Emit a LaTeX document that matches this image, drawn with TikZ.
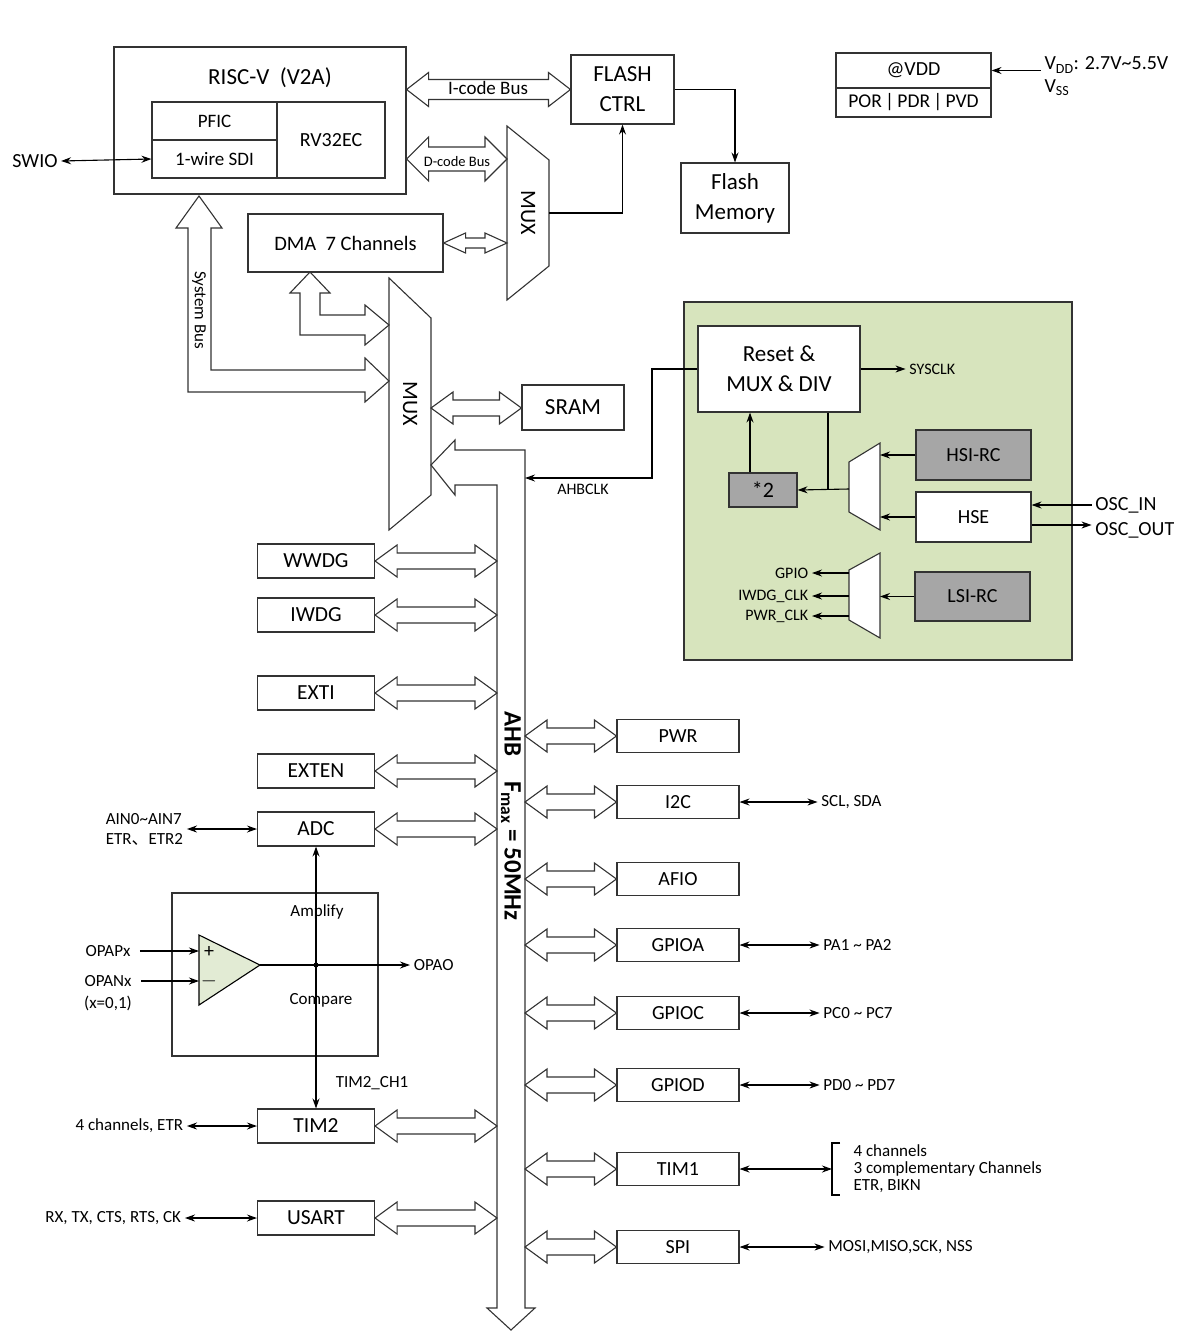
\documentclass[tikz,border=0pt]{standalone}
\usepackage{fontspec}
\setmainfont{Carlito}
\newfontfamily\cjk{Noto Sans CJK SC}
\usetikzlibrary{arrows.meta,calc}

\definecolor{clkgreen}{HTML}{D7E4BD}
\definecolor{opgreen}{HTML}{E2EBD4}
\definecolor{boxgray}{HTML}{A6A6A6}

% hollow double-headed bus arrow: from, to, head half-height, shaft half-height
\newcommand\hbus[4]{\draw[bus] let \p1=(#1), \p2=(#2) in
  (\x1,\y1) -- (\x1+22pt,\y1+#3pt) -- (\x1+22pt,\y1+#4pt) -- (\x2-22pt,\y1+#4pt)
  -- (\x2-22pt,\y1+#3pt) -- (\x2,\y1) -- (\x2-22pt,\y1-#3pt) -- (\x2-22pt,\y1-#4pt)
  -- (\x1+22pt,\y1-#4pt) -- (\x1+22pt,\y1-#3pt) -- cycle;}

\tikzset{
  every node/.style={font=\fontsize{17}{20}\selectfont},
  box/.style={draw=black!80, line width=1.1pt, fill=white, inner sep=0pt, align=center},
  per/.style={box, minimum width=117, minimum height=34, font=\fontsize{21.5}{24}\selectfont},
  perr/.style={box, minimum width=122, minimum height=33, font=\fontsize{20}{22}\selectfont},
  bus/.style={draw=black!80, line width=1.1pt, fill=white},
  line/.style={line width=1.1pt},
  >={Stealth[length=10pt,width=7pt]}
}

\begin{document}
\begin{tikzpicture}[x=1pt,y=-1pt]
    \useasboundingbox (0,0) rectangle (1198,1331);

    % CPU core
    \node[box, fill=none, minimum width=292, minimum height=147] (risc) at (260,120.5) {};
    \node[font=\fontsize{23}{26}\selectfont] (riscl) at (270,78) {RISC-V\ \ (V2A)};
    \node[box, minimum width=125, minimum height=38, font=\fontsize{19}{22}\selectfont] (pfic) at (214.5,121) {PFIC};
    \node[box, minimum width=125, minimum height=38, font=\fontsize{19}{22}\selectfont] (sdi) at (214.5,159) {1-wire SDI};
    \node[box, minimum width=108, minimum height=76, font=\fontsize{20}{22}\selectfont] (rv) at (331,140) {RV32EC};
    \node[font=\fontsize{20}{22}\selectfont] (swio) at (35,161) {SWIO};
    \draw[line,<->] (swio.east) -- (sdi.west);

    % Flash
    \node[box, minimum width=103, minimum height=69, font=\fontsize{23}{30}\selectfont] (flash) at (622.5,89.5) {FLASH\\CTRL};
    \node[box, minimum width=108, minimum height=70, font=\fontsize{23}{30}\selectfont] (mem) at (735,198) {Flash\\Memory};
    \draw[line,->] (flash.east) -| (mem.north);
    \hbus{risc.east |- flash}{flash.west}{17}{10}
    \node[font=\fontsize{19}{20}\selectfont] (icode) at (488,88) {I-code Bus};

    % MUX 1
    \draw[box] (507,126) -- (549,160) -- (549,266) -- (507,300) -- cycle;
    \node[rotate=-90, font=\fontsize{22}{24}\selectfont] (mux1) at (528,213) {MUX};
    \coordinate (m1w) at (507,0);
    \coordinate (m1e) at (549,213);
    \draw[line,->] (m1e) -| (flash.south);
    \hbus{risc.east |- sdi}{m1w |- sdi}{22}{12}
    \node[font=\fontsize{14.5}{16}\selectfont] (dcode) at (457,162) {D-code Bus};

    % DMA
    \node[box, minimum width=195, minimum height=58, font=\fontsize{20.5}{22}\selectfont] (dma) at (345.5,243) {DMA\ \ 7 Channels};
    \hbus{dma.east}{m1w |- dma}{10}{5}

    % MUX 2
    \draw[box] (389,278) -- (431,318) -- (431,495) -- (389,530) -- cycle;
    \node[rotate=-90, font=\fontsize{22}{24}\selectfont] (mux2) at (410,404) {MUX};
    \coordinate (m2e) at (431,408);
    \node[box, minimum width=102, minimum height=45, font=\fontsize{23}{26}\selectfont] (sram) at (573,407.5) {SRAM};
    \hbus{m2e}{sram.west}{16}{8}

    % DMA and system bus into MUX 2
    \draw[bus] (310,272) -- (330,293) -- (320,293) -- (320,315) -- (365,315) -- (365,305)
      -- (389,325) -- (365,345) -- (365,335) -- (300,335) -- (300,293) -- (290,293) -- cycle;
    \draw[bus] (199,196) -- (222,228) -- (211,228) -- (211,370) -- (365,370) -- (365,358)
      -- (389,381) -- (365,402) -- (365,392) -- (188,392) -- (188,228) -- (176,228) -- cycle;
    \node[rotate=-90] (sysbus) at (199,310) {System Bus};

    % AHB
    \draw[bus] (431,465) -- (455,440) -- (455,450) -- (525,450) -- (525,1308) -- (535,1308)
      -- (511,1330) -- (487,1308) -- (497,1308) -- (497,485) -- (455,485) -- (455,495) -- cycle;
    \node[rotate=-90, font=\bfseries\fontsize{25}{28}\selectfont] (ahb) at (511,816) {AHB\quad F\textsubscript{max} = 50MHz};
    \coordinate (busl) at (497,0);
    \coordinate (busr) at (525,0);

    % left peripherals
    \foreach \nm/\t/\yy in {wwdg/WWDG/561, iwdg/IWDG/615, exti/EXTI/693, exten/EXTEN/771,
                           adc/ADC/829, tim2/TIM2/1126, usart/USART/1218} {
      \node[per] (\nm) at (316,\yy) {\t};
      \hbus{\nm.east}{\nm.east -| busl}{16}{8}
    }

    % right peripherals
    \foreach \nm/\t/\yy in {pwr/PWR/736, iic/I2C/802, afio/AFIO/879, gpioa/GPIOA/945,
                           gpioc/GPIOC/1013, gpiod/GPIOD/1085, tim1/TIM1/1169, spi/SPI/1247} {
      \node[perr] (\nm) at (678,\yy) {\t};
      \hbus{\nm.west -| busr}{\nm.west}{16}{8}
    }

    % external pins
    \draw[line,<->] (adc.west) -- ++(-70,0) node[left, align=left] {AIN0\textasciitilde AIN7\\ETR{\cjk 、}ETR2};
    \draw[line,<->] (tim2.west) -- ++(-70,0) node[left] {4 channels, ETR};
    \draw[line,<->] (usart.west) -- ++(-72,0) node[left] {RX, TX, CTS, RTS, CK};
    \draw[line,<->] (iic.east) -- ++(78,0) node[right] {SCL, SDA};
    \draw[line,<->] (gpioa.east) -- ++(80,0) node[right] {PA1 \textasciitilde\ PA2};
    \draw[line,<->] (gpioc.east) -- ++(80,0) node[right] {PC0 \textasciitilde\ PC7};
    \draw[line,<->] (gpiod.east) -- ++(80,0) node[right] {PD0 \textasciitilde\ PD7};
    \draw[line,<->] (spi.east) -- ++(85,0) node[right] {MOSI,MISO,SCK, NSS};
    \coordinate (br) at (832,1169);
    \draw[line,<->] (tim1.east) -- (br);
    \draw[line] (840,1143) -| (832,1195) -- (840,1195);
    \node[anchor=west, align=left, font=\fontsize{17}{17}\selectfont] (tim1l) at (850,1169)
      {4 channels\\3 complementary Channels\\ETR, BIKN};

    % op-amp
    \draw[line, draw=black!80] (172,893) rectangle (378,1056);
    \coordinate (tp) at (199,951);
    \coordinate (tn) at (199,981);
    \coordinate (to) at (260,965);
    \draw[line, fill=opgreen] (199,935) -- (to) -- (199,1005) -- cycle;
    \node[font=\fontsize{20}{20}\selectfont] (plus) at (209,952) {+};
    \node[font=\fontsize{20}{20}\selectfont] (minus) at (209,981) {$-$};
    \node (opp) at (108,951) {OPAPx};
    \node (opn) at (108,981) {OPANx};
    \node (opx) at (108,1003) {(x=0,1)};
    \draw[line,->] ([xshift=6]opp.east) -- (tp);
    \draw[line,->] ([xshift=6]opn.east) -- (tn);
    \draw[line,->] (to) -- (410,965) node[right] {OPAO};
    \draw[line,<->] (adc.south) -- (tim2.north);
    \fill (316,965) circle (2.5);
    \node (amp) at (317,912) {Amplify};
    \node (cmp) at (321,1000) {Compare};
    \node (tch) at (372,1083) {TIM2\_CH1};

    % power
    \node[box, minimum width=155, minimum height=35, font=\fontsize{20}{22}\selectfont] (vdd) at (913.5,70.5) {@VDD};
    \node[box, minimum width=155, minimum height=29, font=\fontsize{19.5}{22}\selectfont] (pvd) at (913.5,102.5) {POR\,|\,PDR\,|\,PVD};
    \draw[line,<-] (vdd.east) -- ++(49,0);
    \node[anchor=west, font=\fontsize{20}{22}\selectfont] (vddl) at (1041,65) {V\textsubscript{DD}: 2.7V\textasciitilde5.5V};
    \node[anchor=west, font=\fontsize{20}{22}\selectfont] (vssl) at (1041,88) {V\textsubscript{SS}};

    % clock tree
    \draw[line, draw=black!80, fill=clkgreen] (684,302) rectangle (1072,660);
    \node[box, minimum width=162, minimum height=86, font=\fontsize{23}{30}\selectfont] (reset) at (779,369) {Reset \&\\MUX \& DIV};
    \draw[line,->] (reset.east) -- ++(45,0) node[right, font=\fontsize{16}{16}\selectfont] {SYSCLK};
    \draw[line,->] (reset.west) -- (652,369) |- (busr |- 0,478);
    \node[font=\fontsize{16}{16}\selectfont] (ahbclk) at (583,489) {AHBCLK};
    \node[box, fill=boxgray, minimum width=68, minimum height=34, font=\fontsize{22}{24}\selectfont] (x2) at (763,490) {*2};
    \draw[line,->] ([xshift=-13]x2.north) -- ([xshift=-13]x2.north |- reset.south);
    \draw[line] ([xshift=49]reset.south) -- ([xshift=49]reset.south |- x2.east);
    \draw[box] (849,462) -- (880,443) -- (880,530) -- (849,512) -- cycle;
    \coordinate (m3w) at (849,489);
    \coordinate (m3e) at (880,0);
    \draw[line,->] (m3w) -- (x2.east);
    \node[box, fill=boxgray, minimum width=115, minimum height=50, font=\fontsize{20}{22}\selectfont] (hsi) at (973.5,455) {HSI-RC};
    \node[box, minimum width=115, minimum height=50, font=\fontsize{20}{22}\selectfont] (hse) at (973.5,517) {HSE};
    \draw[line,->] (hsi.west) -- (hsi.west -| m3e);
    \draw[line,->] (hse.west) -- (hse.west -| m3e);
    \draw[line,<-] ([yshift=12]hse.east) -- ++(60,0) node[right, font=\fontsize{20}{22}\selectfont] {OSC\_IN};
    \draw[line,->] ([yshift=-8]hse.east) -- ++(60,0) node[right, yshift=-5, font=\fontsize{20}{22}\selectfont] {OSC\_OUT};
    \draw[box] (849,570) -- (880,553) -- (880,638) -- (849,620) -- cycle;
    \node[box, fill=boxgray, minimum width=115, minimum height=49, font=\fontsize{20}{22}\selectfont] (lsi) at (972.5,596.5) {LSI-RC};
    \draw[line,->] (lsi.west) -- (lsi.west -| m3e);
    \foreach \t/\yy in {GPIO/573, IWDG\_CLK/596, PWR\_CLK/616}
      \draw[line,->] (849,\yy) -- (812,\yy) node[left, font=\fontsize{16}{16}\selectfont] {\t};
\end{tikzpicture}
\end{document}
